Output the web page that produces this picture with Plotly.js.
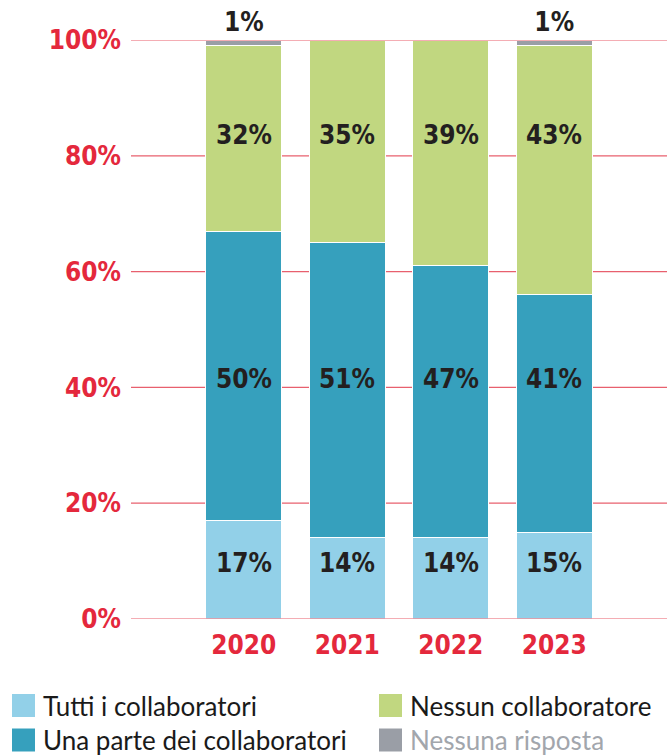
<!DOCTYPE html>
<html>
<head>
<meta charset="utf-8">
<script src="https://cdn.plot.ly/plotly-3.0.1.min.js"></script>
<style>html,body{margin:0;padding:0;background:#fff;}#chart{width:667px;height:756px;}</style>
</head>
<body>
<div id="chart"></div>
<script>
const years = ['2020', '2021', '2022', '2023'];
const seriesNames = ['Tutti i collaboratori', 'Una parte dei collaboratori', 'Nessun collaboratore', 'Nessuna risposta'];
const tutti = [17, 14, 14, 15];
const unaParte = [50, 51, 47, 41];
const nessun = [32, 35, 39, 43];
const nessunaRisposta = [1, 0, 0, 1];
const yTicks = [0, 20, 40, 60, 80, 100];

const colors = ['#92d0e8', '#36a0bd', '#c1d780', '#9a9ea6'];
const legendTextColors = ['#1a1a1a', '#1a1a1a', '#1a1a1a', '#a2a6ac'];
const numFont = 'DejaVu Sans Condensed, sans-serif';
const legFont = 'Lato, Noto Sans, sans-serif';
const red = '#e4283c';
const gridRed = '#e8606e';

// plot-area geometry (px) used to place the custom legend
const W = 667, H = 756, mL = 131, mR = 0, mT = 40, mB = 137;
const pw = W - mL - mR, ph = H - mT - mB;
const px2x = p => (p - mL) / pw;
const px2y = p => (H - mB - p) / ph;

// fixed label heights (in % units) for each series, as in the reference
const labelY = [9.7, 41.5, 83.6];

const values = [tutti, unaParte, nessun, nessunaRisposta];
const traces = values.map((v, i) => {
  const isTop = i === 3;
  return {
    type: 'bar',
    x: years,
    y: v,
    name: seriesNames[i],
    showlegend: false,
    marker: {color: colors[i], line: {color: '#ffffff', width: 1}},
    text: isTop ? v.map(d => d > 0 ? d + '%' : '') : undefined,
    textposition: isTop ? 'outside' : 'none',
    textangle: 0,
    constraintext: 'none',
    cliponaxis: false,
    textfont: {family: numFont, size: 26, color: '#231f20', weight: 'bold'},
    hoverinfo: 'x+y+name'
  };
});

const annotations = [];
for (let i = 0; i < 3; i++) {
  years.forEach((yr, j) => {
    annotations.push({
      x: j, y: labelY[i], xref: 'x', yref: 'y',
      text: values[i][j] + '%', showarrow: false,
      font: {family: numFont, size: 26, color: '#231f20', weight: 'bold'}
    });
  });
}

const shapes = [];
// gridlines 20..80 behind the bars
yTicks.slice(1, -1).forEach(t => {
  shapes.push({
    type: 'line', xref: 'paper', yref: 'y', x0: 0, x1: 1, y0: t, y1: t,
    line: {color: gridRed, width: 1.2}, layer: 'below'
  });
});
// 0% and 100% lines, drawn over the bars
[yTicks[0], yTicks[yTicks.length - 1]].forEach(t => {
  shapes.push({
    type: 'line', xref: 'paper', yref: 'y', x0: 0, x1: 1, y0: t, y1: t,
    line: {color: '#f0929b', width: 1.5}, layer: 'above'
  });
});

// custom legend (2 columns)
const legendPos = [[12, 705.5], [12, 740], [379, 705.5], [379, 740]];
seriesNames.forEach((nm, i) => {
  const [lx, ly] = legendPos[i];
  shapes.push({
    type: 'rect', xref: 'paper', yref: 'paper',
    x0: px2x(lx), x1: px2x(lx + 23), y0: px2y(ly + 11.5), y1: px2y(ly - 11.5),
    fillcolor: colors[i], line: {width: 0}
  });
  annotations.push({
    xref: 'paper', yref: 'paper', x: px2x(lx + 29), y: px2y(ly),
    xanchor: 'left', yanchor: 'middle', showarrow: false,
    text: nm, font: {family: legFont, size: 26, color: legendTextColors[i]}
  });
});

const layout = {
  width: W,
  height: H,
  margin: {l: mL, r: mR, t: mT, b: mB},
  paper_bgcolor: '#ffffff',
  plot_bgcolor: '#ffffff',
  barmode: 'stack',
  bargap: 0.267,
  showlegend: false,
  xaxis: {
    type: 'category',
    range: [-1.09, 4.09],
    showgrid: false,
    zeroline: false,
    showline: false,
    ticks: '',
    ticklabelstandoff: 8,
    tickfont: {family: numFont, size: 26, color: red, weight: 'bold'}
  },
  yaxis: {
    range: [0, 100],
    tickvals: yTicks,
    ticktext: yTicks.map(t => t + '%'),
    showgrid: false,
    zeroline: false,
    showline: false,
    ticks: '',
    ticklabelstandoff: 9,
    tickfont: {family: numFont, size: 26, color: red, weight: 'bold'},
    fixedrange: true
  },
  shapes: shapes,
  annotations: annotations
};

Plotly.newPlot('chart', traces, layout, {displayModeBar: false, staticPlot: true});
</script>
</body>
</html>
